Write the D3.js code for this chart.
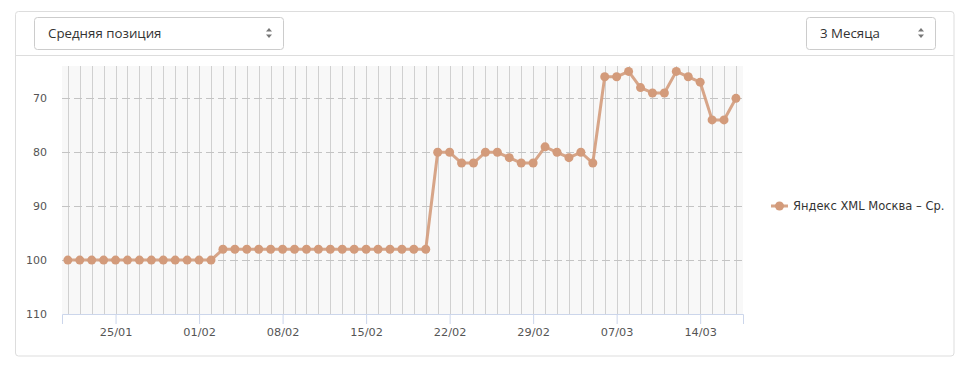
<!DOCTYPE html>
<html>
<head>
<meta charset="utf-8">
<script src="https://cdn.jsdelivr.net/npm/d3@7"></script>
<style>
  html, body { margin: 0; padding: 0; background: #fff; }
  svg { display: block; }
</style>
</head>
<body>
<svg id="chart" width="971" height="370"></svg>
<script>
// ---- data ----
const startDate = "2016-01-21";
const values = [
  100,100,100,100,100,100,100,100,100,100,100,100,100,
  98,98,98,98,98,98,98,98,98,98,98,98,98,98,98,98,98,98,
  80,80,82,82,80,80,81,82,82,79,80,81,80,82,
  66,66,65,68,69,69,65,66,67,74,74,70
];
const xTickLabels = ["25/01","01/02","08/02","15/02","22/02","29/02","07/03","14/03"];
const xTickDates = ["2016-01-25","2016-02-01","2016-02-08","2016-02-15","2016-02-22","2016-02-29","2016-03-07","2016-03-14"];
const yTicks = [70, 80, 90, 100, 110];
const seriesName = "Яндекс XML Москва – Ср.";
const metricLabel = "Средняя позиция";
const periodLabel = "3 Месяца";

// ---- build ----
const parse = d3.utcParse("%Y-%m-%d");
const DAY = 86400000;
const t0 = parse(startDate);
const points = values.map((v, i) => ({ date: new Date(t0.getTime() + i * DAY), value: v }));

const svg = d3.select("#chart");

// panel
svg.append("rect").attr("x", 15.5).attr("y", 11.5).attr("width", 938.5).attr("height", 344.5)
  .attr("rx", 3).attr("fill", "#fff").attr("stroke", "#dddddd");
svg.append("line").attr("x1", 16).attr("x2", 953.5).attr("y1", 55.5).attr("y2", 55.5).attr("stroke", "#dddddd");

// dropdowns
function dropdown(x, y, w, h, label) {
  const g = svg.append("g");
  g.append("rect").attr("x", x + 0.5).attr("y", y + 0.5).attr("width", w).attr("height", h)
    .attr("rx", 3).attr("fill", "#fff").attr("stroke", "#cccccc");
  g.append("text").attr("x", x + 14).attr("y", y + h / 2 + 5)
    .attr("font-family", "'Open Sans', sans-serif").attr("font-size", 13.3).attr("fill", "#333")
    .text(label);
  const ax = x + w - 14, ay = y + h / 2;
  g.append("path").attr("d", `M${ax - 3},${ay - 1.5} L${ax},${ay - 5} L${ax + 3},${ay - 1.5} Z`).attr("fill", "#777");
  g.append("path").attr("d", `M${ax - 3},${ay + 1.5} L${ax},${ay + 5} L${ax + 3},${ay + 1.5} Z`).attr("fill", "#777");
}
dropdown(34, 17, 249, 32, metricLabel);
dropdown(806, 17, 129, 32, periodLabel);

// plot
const plot = { left: 62, right: 743, top: 66, bottom: 314 };
const x = d3.scaleUtc()
  .domain([new Date(t0.getTime() - 0.49 * DAY), new Date(points[points.length - 1].date.getTime() + 0.59 * DAY)])
  .range([plot.left, plot.right]);
const y = d3.scaleLinear().domain([64, 110]).range([plot.top, plot.bottom]);

svg.append("rect").attr("x", plot.left).attr("y", plot.top)
  .attr("width", plot.right - plot.left).attr("height", plot.bottom - plot.top).attr("fill", "#f8f8f8");

// vertical day grid
svg.append("g").selectAll("line").data(points).join("line")
  .attr("x1", d => Math.round(x(d.date)) + 0.5).attr("x2", d => Math.round(x(d.date)) + 0.5)
  .attr("y1", plot.top).attr("y2", plot.bottom)
  .attr("stroke", "#d0d0d0").attr("stroke-width", 1);

// horizontal dashed grid
svg.append("g").selectAll("line").data(yTicks.filter(v => v !== 110)).join("line")
  .attr("x1", plot.left).attr("x2", plot.right)
  .attr("y1", d => Math.round(y(d)) + 0.5).attr("y2", d => Math.round(y(d)) + 0.5)
  .attr("stroke", "#c4c4c4").attr("stroke-dasharray", "8,4");

// y axis
const yAxis = d3.axisLeft(y).tickValues(yTicks).tickSize(0).tickPadding(15);
const yg = svg.append("g").attr("transform", `translate(${plot.left},0)`).call(yAxis);
yg.select(".domain").remove();
yg.selectAll("text").attr("font-family", "'DejaVu Sans', sans-serif").attr("font-size", 11).attr("fill", "#555");

// x axis
const xAxis = d3.axisBottom(x).tickValues(xTickDates.map(parse))
  .tickFormat((d, i) => xTickLabels[i]).tickSizeOuter(0).tickSize(10).tickPadding(4);
const xg = svg.append("g").attr("transform", `translate(0,${plot.bottom})`).call(xAxis);
xg.select(".domain").attr("stroke", "#ccd6eb");
xg.selectAll(".tick line").attr("stroke", "#ccd6eb");
xg.selectAll("text").attr("font-family", "'DejaVu Sans', sans-serif").attr("font-size", 11.3).attr("fill", "#555");

// series
const color = "#d39b7b";
const line = d3.line().x(d => x(d.date)).y(d => y(d.value));
svg.append("path").datum(points).attr("d", line)
  .attr("fill", "none").attr("stroke", color).attr("stroke-width", 3).attr("stroke-opacity", 0.9)
  .attr("stroke-linejoin", "round");
svg.append("g").selectAll("circle").data(points).join("circle")
  .attr("cx", d => x(d.date)).attr("cy", d => y(d.value)).attr("r", 4.5)
  .attr("fill", color);

// legend
const lg = svg.append("g").attr("transform", "translate(771,206)");
lg.append("line").attr("x1", 0).attr("x2", 17).attr("y1", 0).attr("y2", 0)
  .attr("stroke", color).attr("stroke-width", 3).attr("stroke-opacity", 0.9);
lg.append("circle").attr("cx", 8.5).attr("cy", 0).attr("r", 4.5).attr("fill", color);
lg.append("text").attr("x", 22).attr("y", 4)
  .attr("font-family", "'DejaVu Sans', sans-serif").attr("font-size", 11.5).attr("fill", "#333")
  .text(seriesName);
</script>
</body>
</html>
